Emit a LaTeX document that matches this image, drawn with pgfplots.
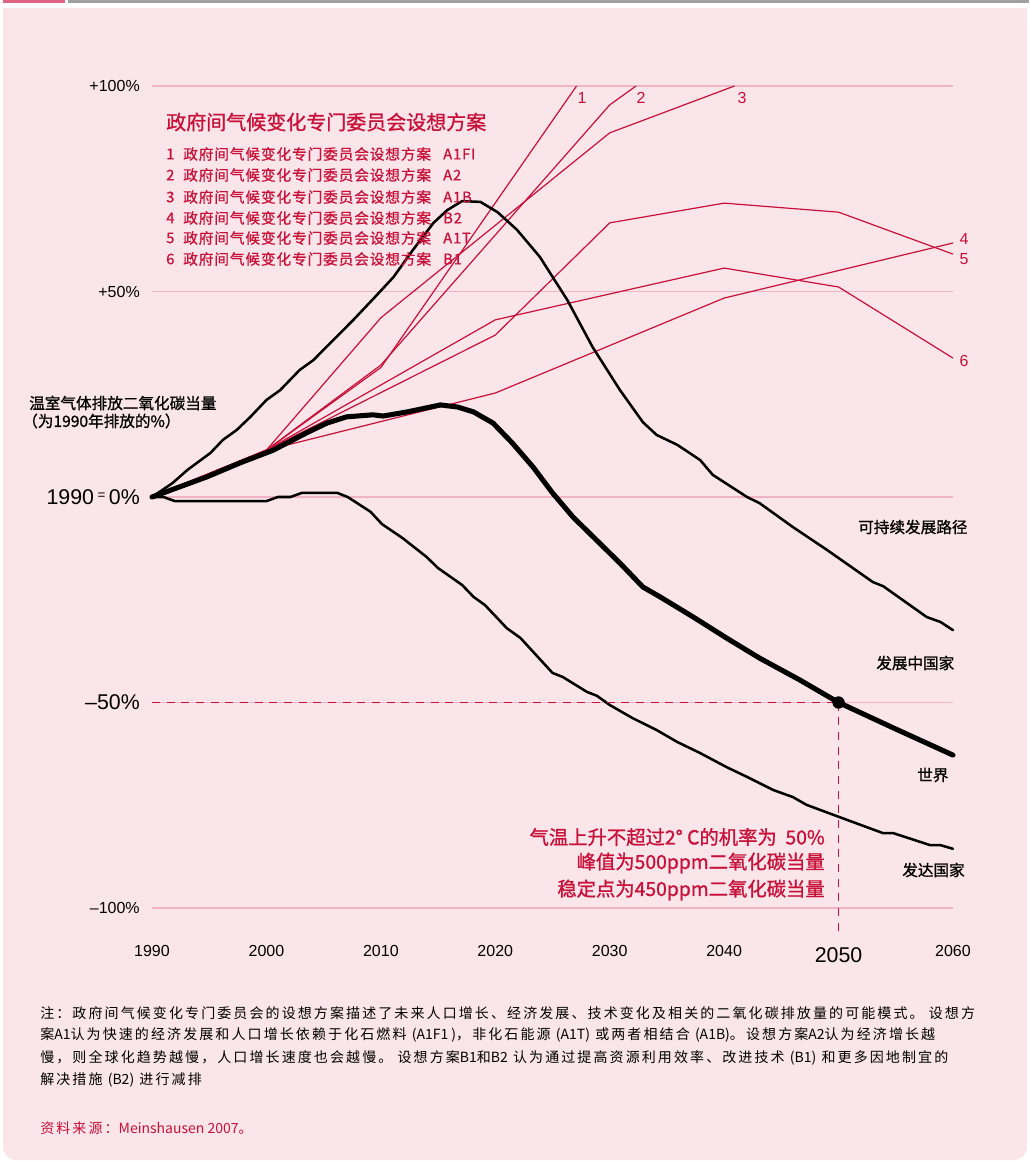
\documentclass[border=0pt]{standalone}
\usepackage{fontspec}
\usepackage{pgfplots}
\pgfplotsset{compat=1.18}
\setmainfont{Liberation Sans}
\newfontfamily\cjk{Noto Sans CJK SC}
\newfontfamily\cjkm[FakeBold=1]{Noto Sans CJK SC}
\newfontfamily\cjksp[LetterSpace=6,FakeBold=0.8]{Noto Sans CJK SC}
\newfontfamily\cjkfn[LetterSpace=15]{Noto Sans CJK SC}
\definecolor{panel}{RGB}{249,229,234}
\definecolor{gridpink}{RGB}{240,180,197}
\definecolor{ipcc}{RGB}{200,16,56}
\definecolor{barred}{RGB}{222,100,130}
\definecolor{bargrey}{RGB}{160,160,160}
\newcommand{\lt}[1]{{\cjk #1}}
\begin{document}
\begin{tikzpicture}
\path[use as bounding box] (0,0) rectangle (771.75pt,-871.5pt);
\begin{scope}[x=0.75pt,y=-0.75pt]
\fill[barred] (3,0) rectangle (65,3);
\fill[bargrey] (68,0) rectangle (1029,3);
\fill[panel,rounded corners=10pt] (3,8) rectangle (1027,1160);
\fill[panel] (3,8) rectangle (1027,40);
\end{scope}
\begin{axis}[
  at={(114pt,-681pt)}, anchor=south west,
  scale only axis, width=600.75pt, height=616.5pt,
  xmin=1990, xmax=2060, ymin=-100, ymax=100,
  axis line style={draw=none},
  clip=false,
  xtick={1990,2000,2010,2020,2030,2040,2050,2060},
  xticklabels={1990,2000,2010,2020,2030,2040,{\fontsize{16}{16}\selectfont\raisebox{-4.9pt}{2050}},2060},
  ytick={-100,-50,0,50,100},
  yticklabels={–100\%,{\fontsize{16}{16}\selectfont –50\%},{\fontsize{16}{16}\selectfont 1990\,\raisebox{4pt}[0pt][0pt]{\fontsize{10}{10}\selectfont =}\,0\%},+50\%,+100\%},
  major tick length=0pt,
  ymajorgrids, grid style={gridpink, line width=0.8pt},
  xticklabel style={anchor=base, yshift=-36pt, inner sep=0pt, font=\fontsize{12}{12}\selectfont},
  yticklabel style={anchor=east, xshift=-9pt, inner sep=0pt, font=\fontsize{12}{12}\selectfont},
]
% IPCC scenarios
\addplot[ipcc, line width=0.9pt, line join=round] coordinates {(1990,0)(2000,11.4)(2010,31.5)(2027.1,100)};
\addplot[ipcc, line width=0.9pt, line join=round] coordinates {(1990,0)(2000,11.4)(2010,32.1)(2030,95.4)(2032.3,100)};
\addplot[ipcc, line width=0.9pt, line join=round] coordinates {(1990,0)(2000,11.4)(2010,43.6)(2030,88.6)(2040.9,100)};
\addplot[ipcc, line width=0.9pt, line join=round] coordinates {(1990,0)(2000,11.4)(2020,25.3)(2040,48.4)(2060,61.8)};
\addplot[ipcc, line width=0.9pt, line join=round] coordinates {(1990,0)(2000,11.4)(2020,39.4)(2030,66.7)(2040,71.5)(2050,69.3)(2060,59.1)};
\addplot[ipcc, line width=0.9pt, line join=round] coordinates {(1990,0)(2000,11.4)(2020,43.1)(2040,55.7)(2050,51.1)(2060,33.8)};
% developing countries
\addplot[black, line width=1.9pt, line join=round, line cap=round] coordinates {(1990,0)(1991.8,3.4)(1993.1,6.6)(1995.1,10.7)(1996.2,13.9)(1997.4,16.3)(1998.6,19.5)(2000,23.6)(2001.2,26.0)(2002.9,30.9)(2004.1,33.3)(2005.6,37.5)(2007.6,43.1)(2009.4,48.4)(2011.1,53.5)(2012.8,60.1)(2014.6,66.7)(2015.8,69.8)(2017.1,72.0)(2018.7,71.8)(2020.2,69.3)(2021.9,65.0)(2023.9,58.4)(2026.3,47.9)(2028.5,36.5)(2030.9,26.0)(2032.9,18.2)(2034.1,15.1)(2035.9,12.7)(2037.9,9.0)(2039.0,5.4)(2042.0,0)(2043.1,-1.5)(2046.0,-7.3)(2049.0,-12.9)(2053.0,-20.7)(2053.9,-21.7)(2057.7,-29.2)(2058.9,-30.4)(2060,-32.4)};
% world
\addplot[black, line width=3.8pt, line join=round, line cap=round] coordinates {(1990,0)(1994.8,4.9)(1997.7,8.3)(2000.6,11.4)(2003.5,15.6)(2005.3,18.0)(2007.0,19.5)(2009.3,20.0)(2010.2,19.7)(2012.3,20.7)(2015.2,22.4)(2016.7,21.9)(2018.1,20.7)(2019.8,18.0)(2021.5,13.1)(2023.3,7.3)(2025.0,1.0)(2026.8,-4.9)(2030.9,-16.1)(2032.9,-21.9)(2034.4,-24.3)(2037.3,-29.2)(2040.2,-34.3)(2043.1,-39.2)(2046.6,-44.5)(2050,-50)(2054.8,-56.2)(2060,-62.8)};
% developed countries
\addplot[black, line width=1.9pt, line join=round, line cap=round] coordinates {(1990,0)(1991.0,0)(1992.0,-1.0)(2000.0,-1.0)(2001.0,0)(2002.1,0)(2003.1,1.0)(2006.2,1.0)(2007.1,0)(2009.1,-3.6)(2010.1,-6.6)(2011.9,-10.0)(2014.0,-14.6)(2015.0,-17.3)(2017.1,-21.4)(2018.1,-24.3)(2019.1,-26.3)(2021.0,-31.9)(2022.2,-34.3)(2025.0,-42.8)(2025.9,-43.8)(2028.0,-47.4)(2028.9,-48.4)(2030.0,-50.6)(2032.0,-53.8)(2034.1,-56.7)(2035.9,-59.6)(2037.9,-62.3)(2040.2,-65.7)(2042.0,-68.1)(2044.3,-71.3)(2046.0,-73.0)(2047.2,-74.9)(2050.1,-77.9)(2053.9,-81.8)(2054.8,-81.8)(2058.0,-84.7)(2058.9,-84.7)(2060,-85.6)};
% 2050 target
\addplot[ipcc, line width=0.9pt, dash pattern=on 6pt off 5pt] coordinates {(1990,-50)(2050,-50)};
\addplot[ipcc, line width=0.9pt, dash pattern=on 6pt off 5pt] coordinates {(2050,-50)(2050,-106.6)};
\addplot[only marks, mark=*, mark size=4.4pt, black] coordinates {(2050,-50)};
\end{axis}
\begin{scope}[x=0.75pt,y=-0.75pt]
% legend
\node[anchor=west, inner sep=0pt, text=ipcc, font=\cjkm\fontsize{15}{15}\selectfont] at (166,122) {政府间气候变化专门委员会设想方案};
\begin{scope}[every node/.style={anchor=west, inner sep=0pt, text=ipcc, font=\cjksp\fontsize{11}{11}\selectfont}]
\node at (166,154) {1}; \node at (183,154) {政府间气候变化专门委员会设想方案}; \node at (443,154) {A1FI};
\node at (166,175) {2}; \node at (183,175) {政府间气候变化专门委员会设想方案}; \node at (443,175) {A2};
\node at (166,197) {3}; \node at (183,197) {政府间气候变化专门委员会设想方案}; \node at (443,197) {A1B};
\node at (166,218) {4}; \node at (183,218) {政府间气候变化专门委员会设想方案}; \node at (443,218) {B2};
\node at (166,238) {5}; \node at (183,238) {政府间气候变化专门委员会设想方案}; \node at (443,238) {A1T};
\node at (166,259) {6}; \node at (183,259) {政府间气候变化专门委员会设想方案}; \node at (443,259) {B1};
\end{scope}
% scenario numbers
\begin{scope}[every node/.style={inner sep=0pt, text=ipcc, font=\fontsize{12}{12}\selectfont}]
\node at (582,98) {1}; \node at (641,98) {2}; \node at (742,98) {3};
\node at (964,239) {4}; \node at (964,259) {5}; \node at (964,361) {6};
\end{scope}
% y title
\node[anchor=west, inner sep=0pt, font=\cjkm\fontsize{11.7}{11.7}\selectfont] at (29,403) {温室气体排放二氧化碳当量};
\node[anchor=west, inner sep=0pt, font=\cjkm\fontsize{11.7}{11.7}\selectfont] at (22,421) {（为1990年排放的\%）};
% curve labels
\begin{scope}[every node/.style={anchor=west, inner sep=0pt, font=\cjkm\fontsize{11.7}{11.7}\selectfont}]
\node at (858,527) {可持续发展路径};
\node at (876,663) {发展中国家};
\node at (917,775) {世界};
\node at (902,870) {发达国家};
\end{scope}
% annotation
\begin{scope}[every node/.style={anchor=east, inner sep=0pt, text=ipcc, font=\cjkm\fontsize{14.5}{14.5}\selectfont}]
\node at (825,837) {气温上升不超过2° C的机率为\ \ 50\%};
\node at (825,863) {峰值为500ppm二氧化碳当量};
\node at (825,890) {稳定点为450ppm二氧化碳当量};
\end{scope}
% footnote
\begin{scope}[every node/.style={anchor=west, inner sep=0pt, font=\cjkfn\fontsize{10.5}{10.5}\selectfont}]
\node at (40,1013) {注：政府间气候变化专门委员会的设想方案描述了未来人口增长、经济发展、技术变化及相关的二氧化碳排放量的可能模式。 设想方};
\node at (40,1035) {案\lt{A1}认为快速的经济发展和人口增长依赖于化石燃料 \lt{(A1F1 )}，非化石能源 \lt{(A1T)} 或两者相结合 \lt{(A1B)}。设想方案\lt{A2}认为经济增长越};
\node at (40,1058) {慢，则全球化趋势越慢，人口增长速度也会越慢。 设想方案\lt{B1}和\lt{B2} 认为通过提高资源利用效率、改进技术 \lt{(B1)} 和更多因地制宜的};
\node at (40,1080) {解决措施 \lt{(B2)} 进行减排};
\node[text=ipcc] at (40,1128) {资料来源：\lt{Meinshausen 2007}。};
\end{scope}
\end{scope}
\end{tikzpicture}
\end{document}
